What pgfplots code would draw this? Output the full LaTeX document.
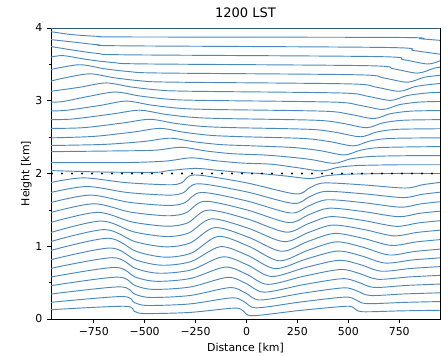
\documentclass[border=0pt]{standalone}
\usepackage{fontspec}
\setmainfont{DejaVu Sans}
\usepackage{pgfplots}
\pgfplotsset{compat=1.18}
\definecolor{C0}{HTML}{4A88BE}
\pgfplotscreateplotcyclelist{blues}{{C0,solid,mark=none}\\}
\begin{document}
\begin{tikzpicture}
\path[use as bounding box] (-38.25pt,-27.75pt) rectangle (297.75pt,239.25pt);
\begin{axis}[
 scale only axis, width=291.75pt, height=218.25pt,
 xmin=-960, xmax=950, ymin=0, ymax=4,
 xtick={-750,-500,-250,0,250,500,750},
 xticklabels={−750,−500,−250,0,250,500,750},
 ytick={0,1,2,3,4}, yticklabels={0,1,2,3,4},
 minor ytick={0.5,1.5,2.5,3.5},
 tick pos=left, tick align=outside,
 major tick length=2.9pt, minor tick length=1.8pt,
 tick style={black, line width=0.5pt},
 ticklabel style={font=\fontsize{8.2}{9.8}\selectfont},
 xlabel={Distance [km]}, ylabel={Height [km]},
 ylabel shift=-4pt, xlabel shift=-1.5pt,
 label style={font=\fontsize{8.2}{9.8}\selectfont},
 title={1200 LST}, title style={font=\fontsize{9.8}{11.5}\selectfont, yshift=-1.5pt},
 axis line style={black, line width=0.5pt},
 cycle list name=blues,
 every axis plot/.append style={line width=0.7pt, smooth, tension=0.5},
]
% lower layer
\addplot coordinates {(-960,.128)(-600,.175)(-550,.105)(-500,.075)(-280,.090)(-60,.150)(-15,.108)(30,.045)(260,.117)(490,.175)(530,.145)(570,.100)(760,.112)(950,.120)};
\addplot coordinates {(-960,.229)(-611,.309)(-549,.223)(-486,.186)(-279,.207)(-71,.291)(-11,.236)(49,.153)(266,.234)(483,.301)(536,.265)(589,.211)(770,.228)(950,.240)};
\addplot coordinates {(-960,.343)(-623,.442)(-547,.340)(-471,.296)(-277,.323)(-83,.431)(-8,.363)(67,.261)(272,.353)(476,.428)(542,.386)(607,.323)(779,.345)(950,.360)};
\addplot coordinates {(-960,.458)(-634,.576)(-546,.458)(-457,.407)(-276,.440)(-94,.572)(-4,.491)(86,.369)(278,.471)(469,.554)(548,.506)(626,.434)(788,.462)(950,.480)};
\addplot coordinates {(-960,.577)(-646,.709)(-545,.575)(-443,.518)(-275,.557)(-106,.713)(-1,.618)(104,.476)(283,.589)(461,.681)(553,.627)(644,.546)(797,.578)(950,.600)};
\addplot coordinates {(-960,.696)(-657,.843)(-543,.693)(-429,.629)(-273,.674)(-117,.854)(3,.746)(123,.584)(289,.707)(454,.807)(559,.747)(663,.657)(807,.695)(950,.720)};
\addplot coordinates {(-960,.815)(-669,.976)(-542,.810)(-414,.739)(-272,.790)(-129,.994)(6,.873)(141,.692)(294,.825)(447,.934)(564,.868)(681,.769)(816,.812)(950,.840)};
\addplot coordinates {(-960,.943)(-680,1.110)(-540,.928)(-400,.850)(-270,.907)(-140,1.135)(10,1.001)(160,.800)(300,.943)(440,1.060)(570,.988)(700,.880)(825,.928)(950,.960)};
\addplot coordinates {(-960,1.066)(-697,1.229)(-547,1.063)(-397,.992)(-277,1.045)(-156,1.256)(8,1.126)(171,.931)(301,1.066)(431,1.176)(571,1.110)(711,1.011)(831,1.059)(950,1.091)};
\addplot coordinates {(-960,1.190)(-714,1.347)(-554,1.198)(-394,1.134)(-284,1.182)(-173,1.376)(5,1.251)(183,1.063)(303,1.188)(423,1.291)(573,1.232)(723,1.143)(837,1.190)(950,1.221)};
\addplot coordinates {(-960,1.328)(-731,1.466)(-561,1.333)(-391,1.276)(-290,1.320)(-189,1.497)(3,1.376)(194,1.194)(304,1.311)(414,1.407)(574,1.354)(734,1.274)(842,1.320)(950,1.351)};
\addplot coordinates {(-960,1.465)(-749,1.584)(-569,1.469)(-389,1.419)(-298,1.459)(-206,1.618)(0,1.501)(206,1.326)(306,1.434)(406,1.523)(576,1.476)(746,1.406)(848,1.452)(950,1.482)};
\addplot coordinates {(-960,1.602)(-766,1.703)(-576,1.604)(-386,1.561)(-304,1.597)(-222,1.739)(-3,1.626)(217,1.457)(307,1.557)(397,1.639)(577,1.598)(757,1.537)(854,1.582)(950,1.612)};
\addplot coordinates {(-960,1.740)(-783,1.821)(-583,1.738)(-383,1.703)(-311,1.734)(-239,1.859)(-5,1.751)(229,1.589)(309,1.680)(389,1.754)(579,1.720)(769,1.669)(860,1.713)(950,1.743)};
\addplot coordinates {(-960,1.877)(-800,1.940)(-590,1.874)(-380,1.845)(-318,1.872)(-255,1.980)(-8,1.876)(240,1.720)(310,1.803)(380,1.870)(580,1.842)(780,1.800)(865,1.846)(950,1.877)};
% upper layer
\addplot coordinates {(-960,2.04)(-700,2.02)(-450,2.015)(-380,2.04)(-250,2.07)(-130,2.04)(0,2.01)(64,2.0)(194,1.965)(314,1.93)(394,1.97)(494,1.99)(700,2.0)(950,2.0)};
\addplot coordinates {(-960,2.15)(-600,2.15)(-400,2.17)(-270,2.215)(-150,2.175)(-20,2.143)(120,2.128)(250,2.08)(370,2.035)(450,2.085)(550,2.11)(750,2.12)(950,2.12)};
\addplot coordinates {(-960,2.30)(-650,2.31)(-450,2.32)(-320,2.36)(-200,2.31)(-70,2.272)(80,2.255)(180,2.234)(310,2.195)(430,2.14)(510,2.20)(610,2.234)(800,2.245)(950,2.245)};
\addplot coordinates {(-960,2.385)(-700,2.40)(-505,2.44)(-375,2.485)(-255,2.435)(-125,2.397)(30,2.38)(230,2.357)(360,2.315)(480,2.255)(560,2.32)(660,2.357)(950,2.37)};
\addplot coordinates {(-960,2.49)(-750,2.51)(-555,2.57)(-425,2.62)(-305,2.566)(-175,2.524)(-25,2.506)(275,2.482)(405,2.44)(525,2.38)(605,2.446)(705,2.482)(950,2.49)};
\addplot coordinates {(-960,2.62)(-800,2.63)(-605,2.695)(-475,2.745)(-355,2.691)(-225,2.649)(-75,2.631)(310,2.607)(440,2.565)(560,2.505)(640,2.571)(740,2.607)(950,2.615)};
\addplot coordinates {(-960,2.74)(-850,2.75)(-655,2.82)(-525,2.87)(-405,2.816)(-275,2.774)(-125,2.756)(340,2.732)(470,2.69)(590,2.63)(670,2.696)(770,2.732)(950,2.74)};
\addplot coordinates {(-960,2.86)(-880,2.87)(-720,2.935)(-590,2.995)(-470,2.941)(-340,2.899)(-190,2.881)(375,2.857)(505,2.815)(625,2.755)(705,2.821)(805,2.857)(950,2.865)};
\addplot coordinates {(-960,2.98)(-900,2.99)(-775,3.06)(-645,3.12)(-525,3.066)(-395,3.024)(-245,3.006)(420,2.982)(550,2.94)(670,2.88)(750,2.946)(850,2.982)(950,2.99)};
\addplot coordinates {(-960,3.13)(-820,3.185)(-690,3.245)(-570,3.191)(-440,3.149)(-290,3.131)(458,3.107)(588,3.065)(708,3.005)(788,3.071)(888,3.107)(950,3.115)};
\addplot coordinates {(-960,3.27)(-900,3.31)(-770,3.37)(-650,3.316)(-520,3.274)(-370,3.256)(500,3.232)(630,3.19)(750,3.13)(830,3.196)(930,3.232)(950,3.235)};
\addplot coordinates {(-960,3.43)(-820,3.495)(-700,3.441)(-570,3.399)(-420,3.381)(540,3.357)(670,3.315)(790,3.255)(870,3.321)(950,3.35)};
\addplot coordinates {(-960,3.60)(-900,3.62)(-780,3.566)(-650,3.524)(-500,3.506)(590,3.482)(720,3.44)(840,3.38)(920,3.446)(950,3.46)};
\addplot coordinates {(-960,3.745)(-860,3.70)(-730,3.65)(-580,3.631)(640,3.607)(770,3.565)(890,3.505)(950,3.55)};
\addplot coordinates {(-960,3.84)(-860,3.81)(-730,3.77)(-600,3.755)(690,3.732)(820,3.69)(950,3.64)};
\addplot coordinates {(-960,3.95)(-860,3.91)(-730,3.885)(-600,3.877)(740,3.87)(860,3.85)(950,3.83)};
\addplot coordinates {(-960,4.0)(950,4.0)};
% dotted reference line
\addplot[black, sharp plot, line width=1.6pt, line cap=round, dash pattern=on 0pt off 7.5pt] coordinates {(-955,2)(950,2)};
\end{axis}
\end{tikzpicture}
\end{document}
